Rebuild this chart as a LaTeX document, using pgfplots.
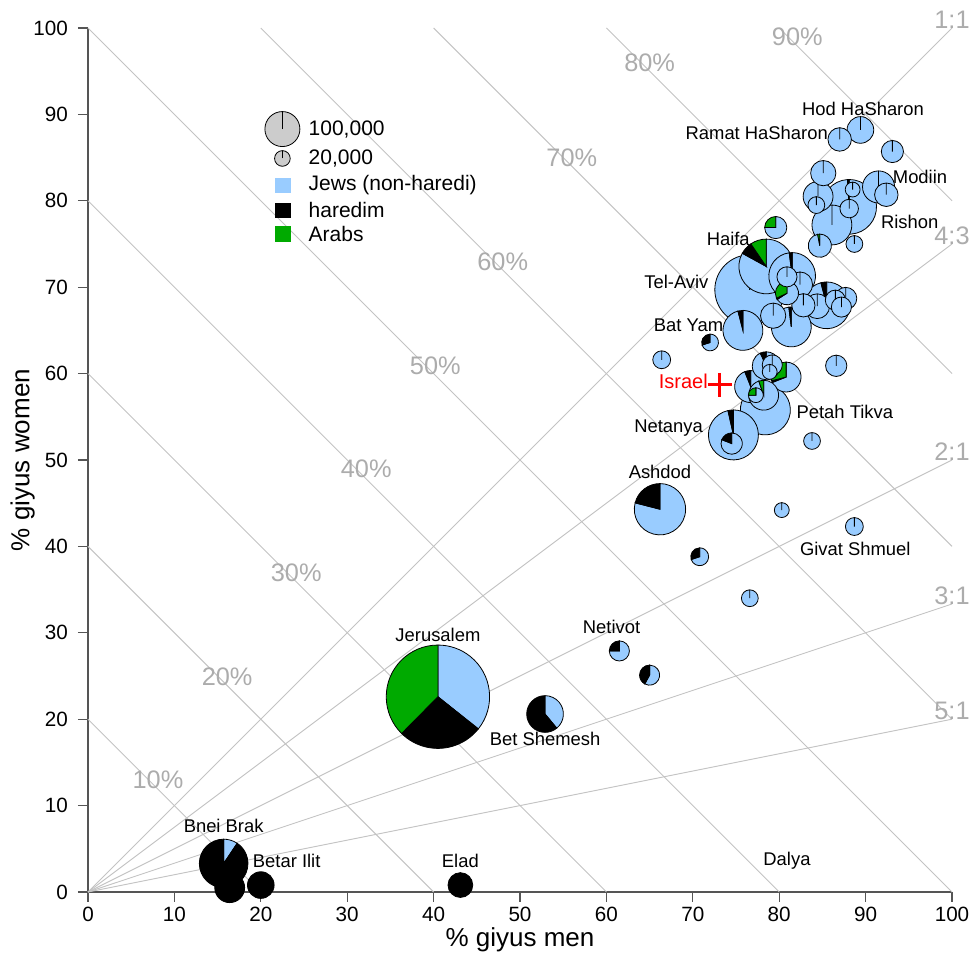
\documentclass[border=0pt]{standalone}
\usepackage{pgfplots}
\pgfplotsset{compat=1.18}
\usepackage{pgfplotstable}
\usepackage{fontspec}
\setmainfont{Liberation Sans}
\definecolor{jewcol}{RGB}{153,204,255}
\definecolor{arabcol}{RGB}{0,170,0}
\definecolor{gridgray}{RGB}{195,195,195}
\definecolor{labgray}{RGB}{172,172,172}
\definecolor{axisgray}{RGB}{85,85,85}
\definecolor{leggray}{RGB}{204,204,204}
\newcommand{\piescale}{1.3125}
\newcommand{\cityfont}{\fontsize{13.8}{16}\selectfont}
\newcommand{\legfont}{\fontsize{15.75}{18}\selectfont}
\newcommand{\grayfont}{\fontsize{19}{22}\selectfont}

\pgfdeclareplotmark{pie}{%
  \pgfmathsetmacro{\pieR}{\piescale*sqrt(\piePop)}%
  \pgfmathsetmacro{\angA}{90+360*\pieA}%
  \pgfmathsetmacro{\angH}{\angA+360*\pieH}%
  \pgfsetlinewidth{0.6pt}%
  \pgfsetstrokecolor{black}%
  \ifdim\angH pt<449.9pt
    \pgfsetfillcolor{jewcol}%
    \pgfpathmoveto{\pgfpointorigin}%
    \pgfpathlineto{\pgfpointpolar{\angH}{\pieR pt}}%
    \pgfpatharc{\angH}{450}{\pieR pt}%
    \pgfpathclose
    \pgfusepath{fill,stroke}%
  \fi
  \ifdim\pieH pt>0pt
    \pgfsetfillcolor{black}%
    \pgfpathmoveto{\pgfpointorigin}%
    \pgfpathlineto{\pgfpointpolar{\angA}{\pieR pt}}%
    \pgfpatharc{\angA}{\angH}{\pieR pt}%
    \pgfpathclose
    \pgfusepath{fill,stroke}%
  \fi
  \ifdim\pieA pt>0pt
    \pgfsetfillcolor{arabcol}%
    \pgfpathmoveto{\pgfpointorigin}%
    \pgfpathlineto{\pgfpointpolar{90}{\pieR pt}}%
    \pgfpatharc{90}{\angA}{\pieR pt}%
    \pgfpathclose
    \pgfusepath{fill,stroke}%
  \fi
}
\pgfdeclareplotmark{graypie}{%
  \pgfmathsetmacro{\pieR}{\piescale*sqrt(\piePop)}%
  \pgfsetlinewidth{0.6pt}%
  \pgfsetstrokecolor{black}%
  \pgfsetfillcolor{leggray}%
  \pgfpathcircle{\pgfpointorigin}{\pieR pt}%
  \pgfusepath{fill,stroke}%
  \pgfpathmoveto{\pgfpointorigin}%
  \pgfpathlineto{\pgfpointpolar{90}{\pieR pt}}%
  \pgfusepath{stroke}%
}

\pgfplotstableread{
x y pop h a
40.5 22.6 872 0.267 0.376
76.6 69.7 400 0.01 0.02
88.1 79.3 244 0.01 0
78.5 72.4 244 0.075 0.095
66.2 44.3 215 0.21 0
78.4 55.8 204 0.01 0
74.7 52.9 204 0.035 0
15.7 3.3 193 0.906 0
81.5 71.3 178 0.02 0
85.5 67.9 178 0.04 0
75.8 65.0 130 0.04 0
81.4 65.4 130 0.02 0
86.1 77.2 130 0 0
52.9 20.6 110 0.61 0
91.5 81.6 84 0 0
76.7 58.5 84 0.06 0
84.5 80.5 73 0 0
80.8 59.6 73 0.02 0.29
78.2 57.5 73 0 0.053
16.4 0.5 73 1 0
78.5 60.9 64 0.07 0
89.4 88.2 58 0 0
20.0 0.8 58 1 0
79.3 66.7 52 0 0
85.1 83.2 52 0 0
82.4 70.3 52 0 0
84.4 67.8 50 0 0
43.1 0.8 50 1 0
87.0 87.1 45 0 0
92.4 80.7 45 0 0
84.7 74.8 44 0 0.03
82.8 67.9 44 0 0
80.9 69.3 44 0.02 0.32
93.1 85.7 40 0 0
79.6 76.9 40 0 0.25
87.7 68.7 40 0 0
86.6 60.9 37 0 0
74.5 51.9 37 0.19 0
80.9 71.2 33 0 0
86.5 68.5 33 0 0
87.2 67.7 33 0 0
61.5 27.9 33 0.25 0
65.0 25.1 33 0.42 0
79.2 61.0 33 0 0
88.1 79.1 28 0 0
66.4 61.6 26 0 0
88.7 42.3 26 0 0
70.8 38.8 26 0.3 0
84.3 79.5 23 0 0
72.0 63.6 23 0.3 0
88.7 75.0 23 0 0
83.8 52.2 23 0 0
76.6 34.0 23 0 0
80.3 44.2 18 0 0
88.5 81.3 18 0 0
78.9 60.2 18 0 0
77.3 57.5 18 0 0.25
}\piedata

\pgfplotstableread{
x y pop
22.5 88.3 100
22.5 84.9 20
}\legpies

\begin{document}
\begin{tikzpicture}
\useasboundingbox (-66pt,-47.25pt) rectangle (663pt,669pt);
\begin{axis}[
  at={(0pt,0pt)}, anchor=south west,
  scale only axis, width=648pt, height=648pt,
  xmin=0, xmax=100, ymin=0, ymax=100,
  axis x line*=bottom, axis y line*=left,
  axis line style={-, axisgray, line width=0.8pt},
  xtick={0,10,...,100}, ytick={0,10,...,100},
  tick align=outside, major tick length=7.5pt,
  tick style={axisgray, line width=0.8pt},
  ticklabel style={font=\fontsize{15.5}{18}\selectfont, text=black},
  yticklabel style={xshift=-4pt},
  /pgf/number format/assume math mode=true,
  xlabel={\% giyus men}, ylabel={\% giyus women},
  label style={font=\fontsize{19.5}{23}\selectfont},
  xlabel style={at={(axis description cs:0.5,-0.0556)}, anchor=center},
  ylabel style={at={(axis description cs:-0.0757,0.5)}, anchor=center},
  clip=false,
]
% iso-mean lines
\addplot[gridgray, line width=0.7pt] coordinates {(0,20) (20,0)};
\addplot[gridgray, line width=0.7pt] coordinates {(0,40) (40,0)};
\addplot[gridgray, line width=0.7pt] coordinates {(0,60) (60,0)};
\addplot[gridgray, line width=0.7pt] coordinates {(0,80) (80,0)};
\addplot[gridgray, line width=0.7pt] coordinates {(0,100) (100,0)};
\addplot[gridgray, line width=0.7pt] coordinates {(20,100) (100,20)};
\addplot[gridgray, line width=0.7pt] coordinates {(40,100) (100,40)};
\addplot[gridgray, line width=0.7pt] coordinates {(60,100) (100,60)};
\addplot[gridgray, line width=0.7pt] coordinates {(80,100) (100,80)};
% ratio lines
\addplot[gridgray, line width=0.7pt] coordinates {(0,0) (100,100)};
\addplot[gridgray, line width=0.7pt] coordinates {(0,0) (100,75)};
\addplot[gridgray, line width=0.7pt] coordinates {(0,0) (100,50)};
\addplot[gridgray, line width=0.7pt] coordinates {(0,0) (100,33.333)};
\addplot[gridgray, line width=0.7pt] coordinates {(0,0) (100,20)};

\node[font=\grayfont, text=labgray] at (axis cs:8.1,13.0) {10\%};
\node[font=\grayfont, text=labgray] at (axis cs:16.1,24.9) {20\%};
\node[font=\grayfont, text=labgray] at (axis cs:24.1,36.9) {30\%};
\node[font=\grayfont, text=labgray] at (axis cs:32.2,49.0) {40\%};
\node[font=\grayfont, text=labgray] at (axis cs:40.2,60.9) {50\%};
\node[font=\grayfont, text=labgray] at (axis cs:48.0,72.9) {60\%};
\node[font=\grayfont, text=labgray] at (axis cs:56.0,85.0) {70\%};
\node[font=\grayfont, text=labgray] at (axis cs:65.0,96.0) {80\%};
\node[font=\grayfont, text=labgray] at (axis cs:82.1,99.0) {90\%};
\node[font=\grayfont, text=labgray, yshift=6pt] at (axis cs:100,100) {1:1};
\node[font=\grayfont, text=labgray, yshift=6pt] at (axis cs:100,75) {4:3};
\node[font=\grayfont, text=labgray, yshift=6pt] at (axis cs:100,50) {2:1};
\node[font=\grayfont, text=labgray, yshift=6pt] at (axis cs:100,33.333) {3:1};
\node[font=\grayfont, text=labgray, yshift=6pt] at (axis cs:100,20) {5:1};

% pies
\addplot[scatter, only marks, mark=pie,
  scatter/@pre marker code/.code={}, scatter/@post marker code/.code={},
  visualization depends on={\thisrow{pop}\as\piePop},
  visualization depends on={\thisrow{h}\as\pieH},
  visualization depends on={\thisrow{a}\as\pieA},
] table[x=x, y=y] {\piedata};

% Israel
\addplot[only marks, mark=+, red, mark size=9pt, line width=2.5pt] coordinates {(73.1,58.7)};
\node[font=\fontsize{15}{18}\selectfont, text=red] at (axis cs:68.9,59.1) {Israel};

% legend
\addplot[scatter, only marks, mark=graypie,
  scatter/@pre marker code/.code={}, scatter/@post marker code/.code={},
  visualization depends on={\thisrow{pop}\as\piePop},
] table[x=x, y=y] {\legpies};
\addplot[only marks, mark=square*, mark size=5.6pt, color=jewcol] coordinates {(22.5,81.8)};
\addplot[only marks, mark=square*, mark size=5.6pt, color=black] coordinates {(22.5,78.9)};
\addplot[only marks, mark=square*, mark size=5.6pt, color=arabcol] coordinates {(22.5,76.2)};
\node[font=\legfont, anchor=west] at (axis cs:25.0,88.3) {100,000};
\node[font=\legfont, anchor=west] at (axis cs:25.0,84.9) {20,000};
\node[font=\legfont, anchor=west] at (axis cs:25.0,81.8) {Jews (non-haredi)};
\node[font=\legfont, anchor=west] at (axis cs:25.0,78.9) {haredim};
\node[font=\legfont, anchor=west] at (axis cs:25.0,76.2) {Arabs};

% city labels
\node[font=\cityfont] at (axis cs:89.7,90.6) {Hod HaSharon};
\node[font=\cityfont] at (axis cs:77.4,87.8) {Ramat HaSharon};
\node[font=\cityfont] at (axis cs:96.3,82.8) {Modiin};
\node[font=\cityfont] at (axis cs:95.1,77.6) {Rishon};
\node[font=\cityfont] at (axis cs:74.1,75.6) {Haifa};
\node[font=\cityfont] at (axis cs:68.1,70.6) {Tel-Aviv};
\node[font=\cityfont] at (axis cs:69.5,65.6) {Bat Yam};
\node[font=\cityfont] at (axis cs:87.6,55.6) {Petah Tikva};
\node[font=\cityfont] at (axis cs:67.2,53.7) {Netanya};
\node[font=\cityfont] at (axis cs:66.2,48.6) {Ashdod};
\node[font=\cityfont] at (axis cs:88.8,39.7) {Givat Shmuel};
\node[font=\cityfont] at (axis cs:60.6,30.7) {Netivot};
\node[font=\cityfont] at (axis cs:40.5,29.7) {Jerusalem};
\node[font=\cityfont] at (axis cs:52.9,17.7) {Bet Shemesh};
\node[font=\cityfont] at (axis cs:15.7,7.6) {Bnei Brak};
\node[font=\cityfont] at (axis cs:23.0,3.6) {Betar Ilit};
\node[font=\cityfont] at (axis cs:43.1,3.6) {Elad};
\node[font=\cityfont] at (axis cs:80.9,3.6) {Dalya};
\end{axis}
\end{tikzpicture}
\end{document}
